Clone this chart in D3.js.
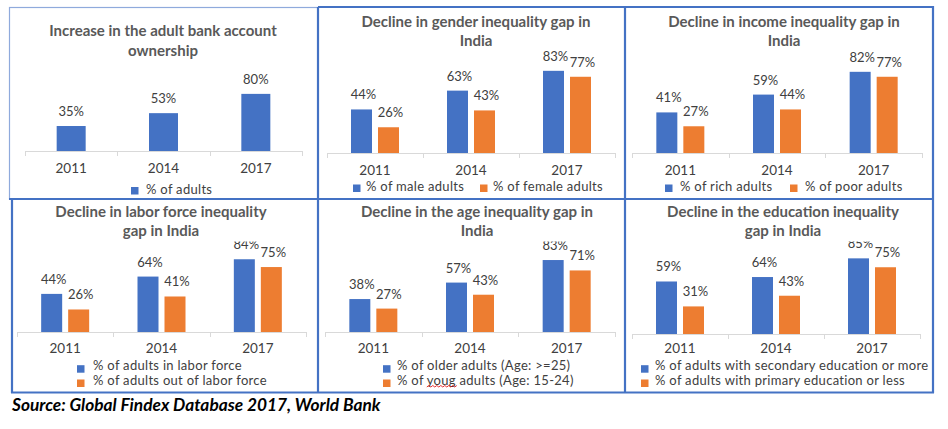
<!DOCTYPE html>
<html><head><meta charset="utf-8">
<script src="https://cdn.jsdelivr.net/npm/d3@7"></script>
<style>
html,body{margin:0;padding:0;background:#fff;}
svg{display:block;font-family:Lato,Carlito,"Open Sans",sans-serif;}
</style></head>
<body><svg id="c" width="948" height="429"></svg>
<script>
// ---- data ----
const years = ["2011", "2014", "2017"];
const titles = [
  ["Increase in the adult bank account", "ownership"],
  ["Decline in gender inequality gap in", "India"],
  ["Decline in income inequality gap in", "India"],
  ["Decline in labor force inequality", "gap in India"],
  ["Decline in the age inequality gap in", "India"],
  ["Decline in the education inequality", "gap in India"]
];
const adults = [35, 53, 80];
const male = [44, 63, 83];
const female = [26, 43, 77];
const rich = [41, 59, 82];
const poor = [27, 44, 77];
const inLabor = [44, 64, 84];
const outLabor = [26, 41, 75];
const older = [38, 57, 83];
const young = [27, 43, 71];
const secondary = [59, 64, 85];
const primary = [31, 43, 75];
const seriesNames = [
  ["% of adults"],
  ["% of male adults", "% of female adults"],
  ["% of rich adults", "% of poor adults"],
  ["% of adults in labor force", "% of adults out of labor force"],
  ["% of older adults (Age: >=25)", "% of youg adults (Age: 15-24)"],
  ["% of adults with secondary education or more", "% of adults with primary education or less"]
];
const seriesValues = [
  [adults], [male, female], [rich, poor], [inLabor, outLabor], [older, young], [secondary, primary]
];
const colors = ["#4472C4", "#ED7D31"];
const source = "Source: Global Findex Database 2017, World Bank";

// ---- layout ----
const layout = [
  {ax0: 25, ax1: 302, base: 151, k: 0.714, barW: 29, gap: 0, tx: 163, ty: [36, 56], clipTop: 60, pad: 12.5,
   leg: {mode: "row", sq: [131], tx: [146], cy: 189}},
  {ax0: 327, ax1: 615, base: 153, k: 0.99, barW: 21, gap: 6, tx: 476, ty: [27, 46], clipTop: 30, pad: 12.5,
   leg: {mode: "row", sq: [353, 480], tx: [366, 493], cy: 186.5}},
  {ax0: 632, ax1: 922, base: 153, k: 0.99, barW: 21, gap: 6, tx: 784, ty: [27, 46], clipTop: 30, pad: 12.5,
   leg: {mode: "row", sq: [665, 790], tx: [680, 805], cy: 186.5}},
  {ax0: 17, ax1: 306, base: 332, k: 0.866, barW: 21, gap: 6, tx: 161, ty: [217, 236], clipTop: 241.5, pad: 11.5,
   leg: {mode: "col", sq: [77], tx: [93], cy: [365.7, 380]}},
  {ax0: 325, ax1: 615, base: 332, k: 0.867, barW: 21, gap: 6, tx: 477, ty: [217, 236], clipTop: 241.5, pad: 11.5,
   leg: {mode: "col", sq: [383], tx: [397], cy: [365.7, 380]}},
  {ax0: 632, ax1: 920, base: 334, k: 0.89, barW: 21, gap: 6, tx: 783, ty: [217, 236], clipTop: 241.5, pad: 9.5,
   leg: {mode: "col", sq: [641], tx: [655], cy: [365.7, 380]}}
];

const svg = d3.select("#c");
const defs = svg.append("defs");

layout.forEach((L, i) => {
  const g = svg.append("g");
  const vals = seriesValues[i];
  const names = seriesNames[i];
  const x0 = d3.scaleBand().domain(years).range([L.ax0, L.ax1]).padding(0);
  const n = vals.length;
  const groupW = n * L.barW + (n - 1) * L.gap;
  const pIn = n > 1 ? L.gap / (L.barW + L.gap) : 0;
  const x1 = d3.scaleBand().domain(d3.range(n)).range([-groupW / 2, groupW / 2]).paddingInner(pIn).paddingOuter(0);
  const y = d3.scaleLinear().domain([0, 100]).range([L.base, L.base - 100 * L.k]);

  // title
  const t = g.append("text").attr("text-anchor", "middle").attr("fill", "#595959")
    .attr("font-weight", "bold").attr("font-size", 15);
  titles[i].forEach((line, j) => t.append("tspan").attr("x", L.tx).attr("y", L.ty[j]).text(line));

  // clip for plot area
  defs.append("clipPath").attr("id", "clip" + i).append("rect")
    .attr("x", L.ax0 - 20).attr("y", L.clipTop).attr("width", L.ax1 - L.ax0 + 40).attr("height", L.base - L.clipTop + 40);
  const plot = g.append("g").attr("clip-path", `url(#clip${i})`);

  // axis
  const axis = d3.axisBottom(x0).tickSize(0).tickPadding(L.pad);
  const ag = g.append("g").attr("transform", `translate(0,${L.base})`).call(axis);
  ag.select(".domain").attr("stroke", "#D9D9D9").attr("stroke-width", 1);
  ag.selectAll("text").attr("font-size", 13.5).attr("fill", "#404040").attr("font-family", "Lato,Carlito,sans-serif");
  // boundary ticks
  const edges = years.map(d => x0(d)).concat([x0(years[years.length - 1]) + x0.step()]);
  g.append("g").selectAll("line").data(edges).join("line")
    .attr("x1", d => Math.round(d) + 0.5).attr("x2", d => Math.round(d) + 0.5)
    .attr("y1", L.base).attr("y2", L.base + 5).attr("stroke", "#D9D9D9");

  // bars + labels
  vals.forEach((arr, s) => {
    const cx = d => x0(years[d]) + x0.bandwidth() / 2 + x1(s);
    plot.append("g").selectAll("rect").data(arr.map((v, k) => ({v, k}))).join("rect")
      .attr("x", d => cx(d.k)).attr("width", x1.bandwidth())
      .attr("y", d => y(d.v)).attr("height", d => y(0) - y(d.v))
      .attr("fill", colors[s]);
    plot.append("g").selectAll("text").data(arr.map((v, k) => ({v, k}))).join("text")
      .attr("x", d => cx(d.k) + x1.bandwidth() / 2 + (n > 1 ? 2 : 0)).attr("y", d => y(d.v) - 10)
      .attr("text-anchor", "middle").attr("font-size", 13).attr("fill", "#404040")
      .text(d => d.v + "%");
  });

  // legend
  const lg = g.append("g").attr("font-size", 13).attr("fill", "#404040");
  names.forEach((nm, s) => {
    const sx = L.leg.mode === "row" ? L.leg.sq[s] : L.leg.sq[0];
    const tx = L.leg.mode === "row" ? L.leg.tx[s] : L.leg.tx[0];
    const cy = L.leg.mode === "row" ? L.leg.cy : L.leg.cy[s];
    lg.append("rect").attr("x", sx).attr("y", cy - 2 + (L.leg.mode === "col" ? 1.5 : 0)).attr("width", 7.5).attr("height", 7.5).attr("fill", colors[s]);
    const tt = lg.append("text").attr("x", tx).attr("y", cy + 4.5).attr("letter-spacing", 0.3).text(nm);
    const idx = nm.indexOf("youg");
    if (idx >= 0) {
      const node = tt.node();
      const sx0 = tx + node.getSubStringLength(0, idx);
      const w = node.getSubStringLength(idx, 4);
      let p = `M${sx0},${cy + 7}`;
      for (let xx = sx0, up = true; xx < sx0 + w; xx += 2, up = !up) p += `L${xx + 2},${cy + (up ? 5.5 : 7)}`;
      lg.append("path").attr("d", p).attr("fill", "none").attr("stroke", "#E00000").attr("stroke-width", 0.8);
    }
  });
});

// frames
svg.append("rect").attr("x", 9.5).attr("y", 7.5).attr("width", 308.5).attr("height", 191.5)
  .attr("fill", "none").attr("stroke", "#8FAADC").attr("stroke-width", 1.2);
const frameLines = [
  [318, 7, 933, 7], [933, 6, 933, 393], [11, 392.5, 934, 392.5], [12, 199, 12, 393],
  [9, 199, 934, 199], [318, 7, 318, 393], [625, 6, 625, 393]
];
svg.append("g").selectAll("line").data(frameLines).join("line")
  .attr("x1", d => d[0]).attr("y1", d => d[1]).attr("x2", d => d[2]).attr("y2", d => d[3])
  .attr("stroke", "#4472C4").attr("stroke-width", 2.2);

svg.append("text").attr("x", 12).attr("y", 410.5).attr("font-size", 17.3).attr("font-weight", "bold")
  .attr("font-style", "italic").attr("fill", "#000").text(source);
</script></body></html>
